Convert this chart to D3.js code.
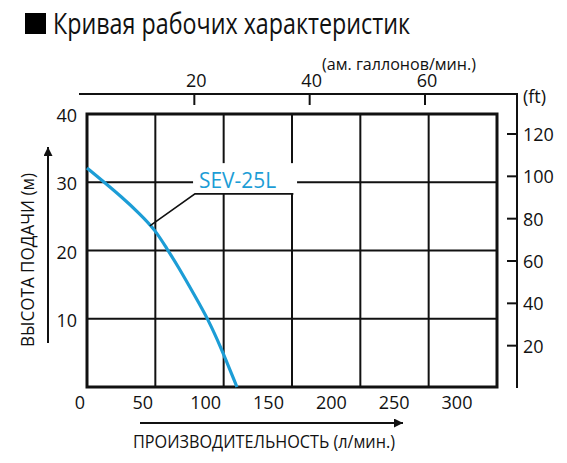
<!DOCTYPE html>
<html>
<head>
<meta charset="utf-8">
<script src="https://cdn.jsdelivr.net/npm/d3@7"></script>
<style>
  body { margin: 0; background: #fff; }
  text { font-family: "Open Sans", sans-serif; fill: #111; }
</style>
</head>
<body>
<div id="chart"></div>
<script>
// flow (l/min) vs head (m) for the SEV-25L
const flowLpm = [0, 12, 25, 38, 50, 58.6, 66, 80.5, 88.3, 97.6, 109.7];
const headM = [32.1, 30.1, 27.9, 25.5, 23.0, 20.2, 17.9, 12.8, 10, 6.0, 0];

const xTicks = [0, 50, 100, 150, 200, 250, 300];
const yTicks = [10, 20, 30, 40];
const galTicks = [20, 40, 60];
const ftTicks = [20, 40, 60, 80, 100, 120];

const title = "Кривая рабочих характеристик";
const xTitle = "ПРОИЗВОДИТЕЛЬНОСТЬ (л/мин.)";
const yTitle = "ВЫСОТА ПОДАЧИ (м)";
const galTitle = "(ам. галлонов/мин.)";
const seriesName = "SEV-25L";

function main() {
    const width = 567;
    const height = 463;
    const blue = "#1c9dd6";

    const svg = d3.select("#chart")
        .append("svg")
        .attr("width", width)
        .attr("height", height)

    const x = d3.scaleLinear().domain([0, 300]).range([87, 497])
    const y = d3.scaleLinear().domain([0, 40]).range([387, 114])
    // printed tick numbers sit a bit off the grid in the original
    const xLab = d3.scaleLinear().domain([0, 300]).range([80, 457])
    const gal = d3.scaleLinear().domain([0, 60]).range([79, 425])
    const ft = d3.scaleLinear().domain([0, 120]).range([388, 134])

    // title
    svg.append("rect").attr("x", 25).attr("y", 13).attr("width", 21).attr("height", 21).attr("fill", "#000")
    svg.append("text").attr("x", 53).attr("y", 34)
        .attr("font-size", 29)
        .attr("textLength", 357).attr("lengthAdjust", "spacingAndGlyphs")
        .text(title)

    // grid
    const grid = svg.append("g").attr("stroke", "#111").attr("stroke-width", 2)
    grid.selectAll(".gx")
        .data(xTicks.slice(1, -1))
        .join("line")
        .attr("x1", d => x(d)).attr("x2", d => x(d))
        .attr("y1", y(0)).attr("y2", y(40))
    grid.selectAll(".gy")
        .data(yTicks.slice(0, -1))
        .join("line")
        .attr("y1", d => y(d)).attr("y2", d => y(d))
        .attr("x1", x(0)).attr("x2", x(300))

    svg.append("rect")
        .attr("x", x(0)).attr("y", y(40))
        .attr("width", x(300) - x(0)).attr("height", y(0) - y(40))
        .attr("fill", "none").attr("stroke", "#111").attr("stroke-width", 3)

    // bottom numbers
    svg.append("g").selectAll("text")
        .data(xTicks)
        .join("text")
        .attr("x", d => xLab(d)).attr("y", 409)
        .attr("text-anchor", "middle").attr("font-size", 18)
        .text(d => d)

    // left numbers
    svg.append("g").selectAll("text")
        .data(yTicks)
        .join("text")
        .attr("x", 77).attr("y", d => y(d) + 8)
        .attr("text-anchor", "end").attr("font-size", 18)
        .text(d => d)

    // top gallon axis
    const top = svg.append("g").attr("stroke", "#111").attr("stroke-width", 2)
    top.append("line").attr("x1", gal(0)).attr("x2", 518).attr("y1", 94).attr("y2", 94)
    top.selectAll(".t")
        .data(galTicks)
        .join("line")
        .attr("x1", d => gal(d)).attr("x2", d => gal(d))
        .attr("y1", 94).attr("y2", 105)
    svg.append("g").selectAll("text")
        .data(galTicks)
        .join("text")
        .attr("x", d => gal(d) + 2).attr("y", 87)
        .attr("text-anchor", "middle").attr("font-size", 18)
        .text(d => d)
    svg.append("text").attr("x", 322).attr("y", 70)
        .attr("font-size", 17)
        .attr("textLength", 154).attr("lengthAdjust", "spacingAndGlyphs")
        .text(galTitle)

    // right ft axis
    const right = svg.append("g").attr("stroke", "#111").attr("stroke-width", 2)
    right.append("line").attr("x1", 517).attr("x2", 517).attr("y1", 93).attr("y2", ft(0))
    right.selectAll(".t")
        .data(ftTicks)
        .join("line")
        .attr("x1", 507).attr("x2", 517)
        .attr("y1", d => ft(d)).attr("y2", d => ft(d))
    svg.append("g").selectAll("text")
        .data(ftTicks)
        .join("text")
        .attr("x", 523).attr("y", d => ft(d) + 7)
        .attr("font-size", 18)
        .text(d => d)
    svg.append("text").attr("x", 523).attr("y", 103)
        .attr("font-size", 18)
        .text("(ft)")

    // curve
    const pts = flowLpm.map((q, i) => [q, headM[i]])
    const line = d3.line()
        .x(d => x(d[0]))
        .y(d => y(d[1]))
        .curve(d3.curveBasis)
    svg.append("path")
        .datum(pts)
        .attr("d", line)
        .attr("fill", "none")
        .attr("stroke", blue)
        .attr("stroke-width", 3.2)

    // series label with white backing and leader
    svg.append("rect")
        .attr("x", x(77.6)).attr("y", y(32.8))
        .attr("width", x(153.7) - x(77.6)).attr("height", y(28.3) - y(32.8))
        .attr("fill", "#fff")
    svg.append("text")
        .attr("x", x(82)).attr("y", y(29.2))
        .attr("font-size", 21)
        .attr("textLength", 77).attr("lengthAdjust", "spacingAndGlyphs")
        .style("fill", blue)
        .text(seriesName)
    svg.append("path")
        .attr("d", d3.line()([[x(151), y(28.3)], [x(79), y(28.3)], [x(46), y(23.6)]]))
        .attr("fill", "none").attr("stroke", "#111").attr("stroke-width", 1.6)

    // axis titles with arrows
    svg.append("defs").append("marker")
        .attr("id", "arr")
        .attr("viewBox", "0 0 10 10")
        .attr("refX", 10).attr("refY", 5)
        .attr("markerWidth", 9).attr("markerHeight", 9)
        .attr("markerUnits", "userSpaceOnUse")
        .attr("orient", "auto")
        .append("path").attr("d", "M0,0L10,5L0,10Z").attr("fill", "#111")

    svg.append("line")
        .attr("x1", 140).attr("x2", 403).attr("y1", 423).attr("y2", 423)
        .attr("stroke", "#111").attr("stroke-width", 2)
        .attr("marker-end", "url(#arr)")
    svg.append("text").attr("x", 133).attr("y", 448)
        .attr("font-size", 18)
        .attr("textLength", 262).attr("lengthAdjust", "spacingAndGlyphs")
        .text(xTitle)

    svg.append("line")
        .attr("x1", 48).attr("x2", 48).attr("y1", 343).attr("y2", 147)
        .attr("stroke", "#111").attr("stroke-width", 2)
        .attr("marker-end", "url(#arr)")
    svg.append("text")
        .attr("transform", "translate(34,347) rotate(-90)")
        .attr("font-size", 18)
        .attr("textLength", 174).attr("lengthAdjust", "spacingAndGlyphs")
        .text(yTitle)
}
main();
</script>
</body>
</html>
